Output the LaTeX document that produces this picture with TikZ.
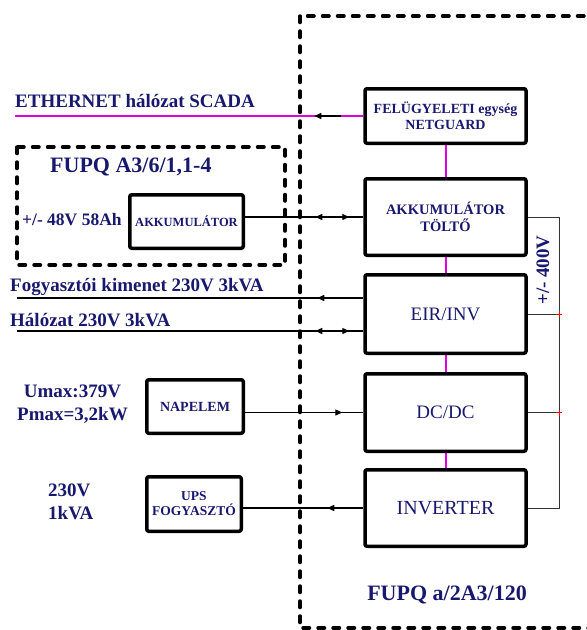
\documentclass[tikz,border=0pt]{standalone}
\usepackage{fontspec}
\setmainfont{Liberation Serif}
\usetikzlibrary{arrows.meta, positioning, decorations.markings}
\definecolor{sotetkek}{RGB}{24,24,110}
\definecolor{lila}{RGB}{225,0,225}
\tikzset{
    blokk/.style={rectangle, rounded corners=2pt, draw=black, line width=3.5pt, text=sotetkek, align=center, inner sep=2pt},
    keret/.style={draw=black, line width=3.5pt, line cap=round, dash pattern=on 6.5pt off 8.5pt},
    felirat/.style={text=sotetkek, font=\fontsize{19}{23}\selectfont\bfseries, inner sep=0pt},
    vezetek/.style={draw=black, line width=1.3pt},
    adat/.style={draw=lila, line width=2pt},
    busz/.style={draw=black!80, line width=1pt},
    nyil/.style={postaction={decorate, decoration={markings, mark=at position #1 with {\arrow{Triangle[length=7pt,width=6pt]}}}}},
    ketnyil/.style 2 args={postaction={decorate, decoration={markings,
            mark=at position #1 with {\arrow{Triangle[length=7pt,width=6pt,reversed]}},
            mark=at position #2 with {\arrow{Triangle[length=7pt,width=6pt]}}}}}
}

\begin{document}
\begin{tikzpicture}[x=1pt, y=-1pt,
                    nagyblokk/.style={blokk, minimum width=161pt},
                    kisblokk/.style={blokk, font=\fontsize{13.5}{15}\selectfont\bfseries}
                ]
                \useasboundingbox (0,0) rectangle (587,630);

                % Szaggatott keretek
                \draw[keret] (300,16) rectangle (610,628);
                \draw[keret] (17,147) rectangle (285,265);

                % Fo blokkok
                \node (felugyeleti) [nagyblokk, minimum height=54.5pt, font=\fontsize{14}{16}\selectfont\bfseries] at (445.5,116) {FELÜGYELETI egység\\NETGUARD};
                \node (tolto) [nagyblokk, minimum height=76.5pt, font=\fontsize{14.5}{17}\selectfont\bfseries] at (445.5,217) {AKKUMULÁTOR\\TÖLTŐ};
                \node (eirinv) [nagyblokk, minimum height=78.5pt, font=\fontsize{19}{22}\selectfont] at (445.5,314) {EIR/INV};
                \node (dcdc) [nagyblokk, minimum height=77.5pt, font=\fontsize{19}{22}\selectfont] at (445.5,412.5) {DC/DC};
                \node (inverter) [nagyblokk, minimum height=76.5pt, font=\fontsize{20}{22}\selectfont] at (445.5,508) {INVERTER};

                % Kulso blokkok
                \node (akku) [kisblokk, minimum width=113.5pt, minimum height=53.5pt, font=\fontsize{12.5}{15}\selectfont\bfseries] at (186.5,221.5) {AKKUMULÁTOR};
                \node (napelem) [kisblokk, minimum width=96.5pt, minimum height=53.5pt, font=\fontsize{14}{16}\selectfont\bfseries] at (195,406.5) {NAPELEM};
                \node (ups) [kisblokk, minimum width=94.5pt, minimum height=54.5pt] at (194,504) {UPS\\FOGYASZTÓ};

                % Feliratok
                \node (eth_felirat) [felirat, anchor=west] at (15,101) {ETHERNET hálózat SCADA};
                \node (fupq_kis) [felirat, anchor=west, font=\fontsize{22}{26}\selectfont\bfseries] at (50,167) {FUPQ A3/6/1,1-4};
                \node (akku_felirat) [felirat, anchor=west, font=\fontsize{17.5}{20}\selectfont\bfseries] at (22,220) {+/- 48V 58Ah};
                \node (fogy_felirat) [felirat, anchor=west] at (10,287) {Fogyasztói kimenet 230V 3kVA};
                \node (halozat_felirat) [felirat, anchor=west] at (10,320) {Hálózat 230V 3kVA};
                \node (napelem_felirat) [felirat, align=center] at (72.5,404) {Umax:379V\\Pmax=3,2kW};
                \node (ups_felirat) [felirat, align=left, anchor=west] at (48,501.5) {230V\\1kVA};
                \node (fupq_nagy) [felirat, font=\fontsize{22}{26}\selectfont\bfseries] at (447,595) {FUPQ a/2A3/120};
                \node (feszultseg) [felirat, rotate=90] at (543,270) {+/- 400V};

                % Szabad vegpontok
                \coordinate (bal_szel) at (15,0);
                \coordinate (fogy_vege) at (17,298);
                \coordinate (halozat_vege) at (17,331);
                \coordinate (busz) at (559,0);

                % Bal oldali vezetekek
                \draw[adat, line width=1.5pt, postaction={decorate, decoration={markings, mark=at position 22pt with {\draw[black, line width=1.3pt, -{Triangle[length=7pt,width=6pt]}] (0pt,0pt) -- (27pt,0pt);}}}] (felugyeleti.west) -- (felugyeleti.west -| bal_szel);
                \draw[vezetek, ketnyil={21pt}{48pt}] (tolto.west) -- (tolto.west -| akku.east);
                \draw[vezetek, nyil=46pt] (eirinv.west |- fogy_vege) -- (fogy_vege);
                \draw[vezetek, ketnyil={21pt}{48pt}] (eirinv.west |- halozat_vege) -- (halozat_vege);
                \draw[vezetek, nyil=-21pt] (napelem.east |- dcdc.west) -- (dcdc.west);
                \draw[vezetek, nyil=36pt] (inverter.west) -- (inverter.west -| ups.east);

                % Adatkapcsolat a blokkok kozott
                \draw[adat] (felugyeleti) -- (tolto);
                \draw[adat] (tolto) -- (eirinv);
                \draw[adat] (eirinv) -- (dcdc);
                \draw[adat] (dcdc) -- (inverter);

                % +/- 400V sin
                \draw[busz] (tolto.east) -- (tolto.east -| busz) -- (inverter.east -| busz) -- (inverter.east);
                \draw[busz] (eirinv.east) -- (eirinv.east -| busz);
                \draw[busz] (dcdc.east) -- (dcdc.east -| busz);
                \draw[red, line width=0.8pt] (eirinv.east -| busz) ++(-3,0) -- ++(6,0) ++(-3,-3) -- ++(0,6);
                \draw[red, line width=0.8pt] (dcdc.east -| busz) ++(-3,0) -- ++(6,0) ++(-3,-3) -- ++(0,6);

            \end{tikzpicture}
\end{document}
